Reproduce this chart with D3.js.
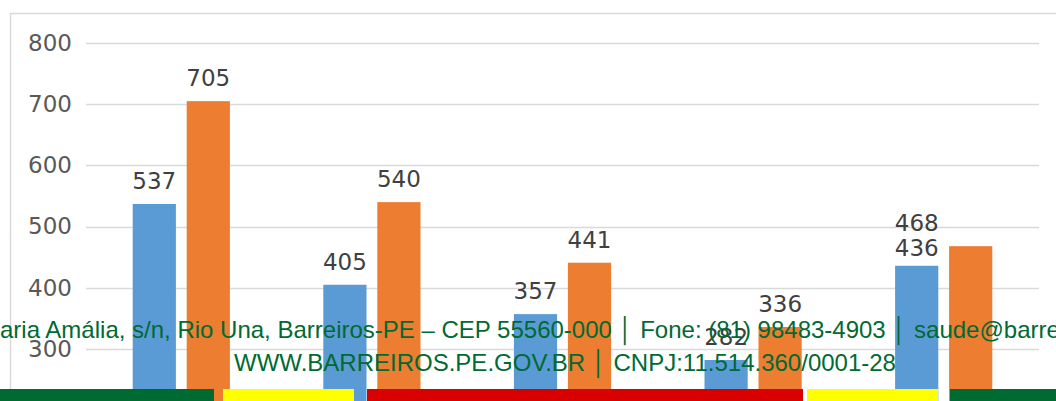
<!DOCTYPE html>
<html><head><meta charset="utf-8">
<script src="https://cdn.jsdelivr.net/npm/d3@7"></script>
<style>html,body{margin:0;padding:0;background:#fff;overflow:hidden}svg{display:block}</style>
</head><body>
<svg id="c" width="1056" height="401"></svg>
<script>
const categories = ["Cat 1","Cat 2","Cat 3","Cat 4","Cat 5"];
const seriesA = [537, 405, 357, 282, 436];
const seriesB = [705, 540, 441, 336, 468];
const yTicks = [300, 400, 500, 600, 700, 800];
const footerLine1 = "Rua Maria Amália, s/n, Rio Una, Barreiros-PE – CEP 55560-000 │ Fone: (81) 98483-4903 │ saude@barreiros.pe.gov.br";
const footerLine2 = "WWW.BARREIROS.PE.GOV.BR │ CNPJ:11.514.360/0001-28";
const stripColors = ["#006a33","#ffff00","#d90000","#ffff00","#006a33"];
const stripBreaks = [0, 214, 223, 354, 367, 803, 807, 938, 950, 1056];

(function(){
const svg = d3.select("#c");
const mLeft = 86, mRight = 1039, mTop = 43;
const y = d3.scaleLinear().domain([0, 800]).range([mTop + 8*61.2, mTop]);
const x0 = d3.scaleBand().domain(categories).range([mLeft, mRight]).paddingInner(0.49).paddingOuter(0.245);
const x1 = d3.scaleBand().domain(["A","B"]).range([0, x0.bandwidth()]).paddingInner(0.2);

svg.append("rect").attr("x", 10.5).attr("y", 13.5).attr("width", 1100).attr("height", 600)
  .attr("fill", "none").attr("stroke", "#d9d9d9").attr("stroke-width", 1.5);

svg.append("g").selectAll("line").data(yTicks).join("line")
  .attr("x1", mLeft).attr("x2", mRight)
  .attr("y1", d => Math.round(y(d)) + 0.5).attr("y2", d => Math.round(y(d)) + 0.5)
  .attr("stroke", "#d9d9d9").attr("stroke-width", 1.5);

const yAxis = d3.axisLeft(y).tickValues(yTicks).tickSize(0).tickPadding(14);
const ga = svg.append("g").attr("transform", `translate(${mLeft},0)`).call(yAxis);
ga.select(".domain").remove();
ga.selectAll("text").attr("font-family", "DejaVu Sans").attr("font-size", 23).attr("fill", "#595959");

const groups = svg.append("g").selectAll("g").data(categories).join("g")
  .attr("transform", d => `translate(${x0(d)},0)`);
const colors = {A: "#5b9bd5", B: "#ed7d31"};
const last = categories.length - 1;
groups.each(function(c, i) {
  const g = d3.select(this);
  const vals = [{k: "A", v: seriesA[i]}, {k: "B", v: seriesB[i]}];
  g.selectAll("rect").data(vals).join("rect")
    .attr("x", d => x1(d.k)).attr("width", x1.bandwidth())
    .attr("y", d => y(d.v)).attr("height", d => y(0) - y(d.v))
    .attr("fill", d => colors[d.k]);
  g.selectAll("text").data(vals).join("text")
    .attr("x", d => x1(i === last ? "A" : d.k) + x1.bandwidth() / 2)
    .attr("y", d => y(d.v) - ((i === last && d.k === "A") ? 10 : 15))
    .attr("text-anchor", "middle")
    .attr("font-family", "DejaVu Sans").attr("font-size", 23).attr("fill", "#404040")
    .text(d => d.v);
});

const fs = 24;
const f1 = svg.append("text").attr("y", 338).attr("font-family", "Liberation Sans").attr("font-size", fs)
  .attr("fill", "#006a33").text(footerLine1);
const tmp = svg.append("text").attr("font-family", "Liberation Sans").attr("font-size", fs).text("Rua M");
const pre = tmp.node().getComputedTextLength(); tmp.remove();
f1.attr("x", -pre);
svg.append("text").attr("x", 565).attr("y", 371).attr("text-anchor", "middle")
  .attr("font-family", "Liberation Sans").attr("font-size", fs).attr("fill", "#006a33").text(footerLine2);

const strips = stripColors.map((c, i) => ({c, x: stripBreaks[i*2], x2: stripBreaks[i*2+1]}));
svg.append("g").selectAll("rect").data(strips).join("rect")
  .attr("x", d => d.x).attr("width", d => d.x2 - d.x).attr("y", 389).attr("height", 12).attr("fill", d => d.c);
})();
</script>
</body></html>
